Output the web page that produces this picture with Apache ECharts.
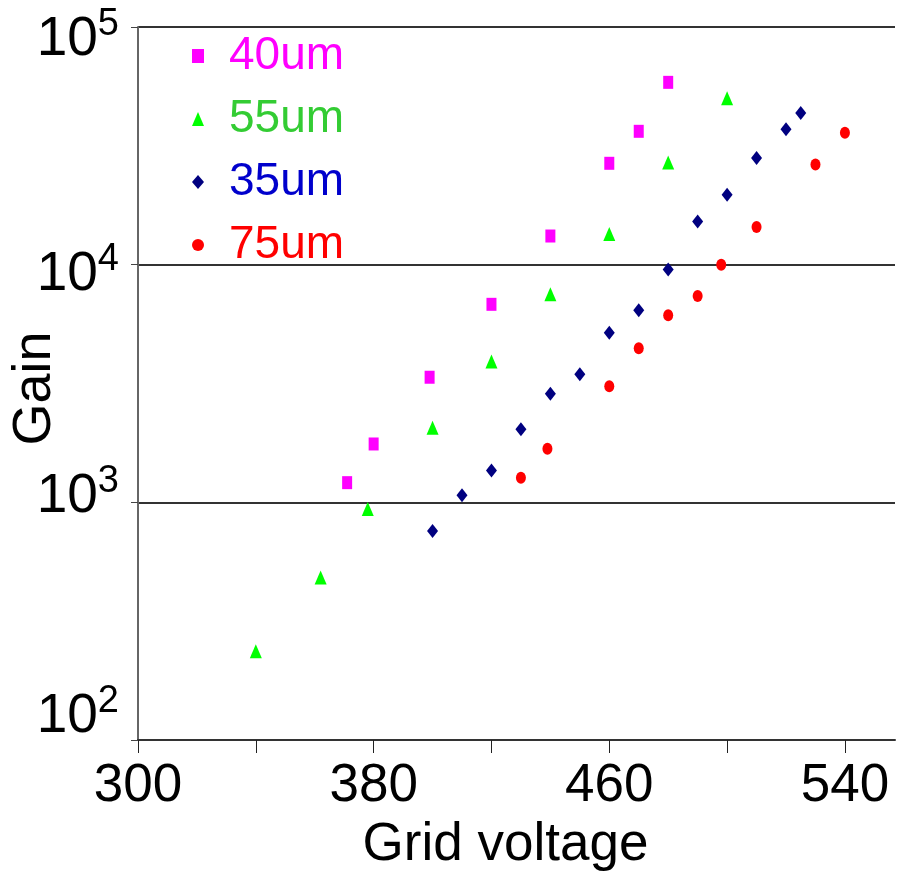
<!DOCTYPE html>
<html>
<head>
<meta charset="utf-8">
<script src="https://cdn.jsdelivr.net/npm/echarts@6/dist/echarts.min.js"></script>
<style>
  html, body { margin: 0; padding: 0; background: #fff; }
  #chart { width: 897px; height: 873px; }
</style>
</head>
<body>
<div id="chart"></div>
<script>
// gain vs grid voltage
const volt40 = [371, 380, 399, 420, 440, 460, 470, 480]
const gain40 = [1210, 1760, 3360, 6810, 13200, 26700, 36400, 58500]

const volt55 = [340, 362, 378, 400, 420, 440, 460, 480, 500]
const gain55 = [236, 483, 937, 2060, 3910, 7500, 13450, 26900, 50200]

const volt35 = [400, 410, 420, 430, 440, 450, 460, 470, 480, 490, 500, 510, 520, 525]
const gain35 = [757, 1070, 1360, 2030, 2860, 3460, 5170, 6430, 9550, 15200, 19700, 28100, 37100, 43500]

const volt75 = [430, 439, 460, 470, 480, 490, 498, 510, 530, 540]
const gain75 = [1270, 1680, 3080, 4450, 6120, 7380, 9990, 14400, 26400, 35900]

const xLabels = [300, 380, 460, 540]
const xTicks = [300, 340, 380, 420, 460, 500, 540]

const font = 'Liberation Sans, Arial, sans-serif'

const pairs = (xs, ys) => xs.map((x, i) => [x, ys[i]])

// the y labels in the original sit a bit off their gridlines, px (+ = down)
const yLabelShift = { 2: -23, 3: -6, 4: 10, 5: 13 }

const yRich = {
  b: { fontSize: 55, fontFamily: font, color: '#000' },
  s: { fontSize: 38, fontFamily: font, color: '#000', padding: [0, 0, 30, 0] }
}
Object.keys(yLabelShift).forEach(k => {
  yRich['g' + k] = { fontSize: 1, lineHeight: Math.abs(yLabelShift[k]) * 2 }
})

const yLabelFormatter = v => {
  const e = Math.round(Math.log10(v))
  const main = '{b|10}{s|' + e + '}'
  const shift = yLabelShift[e] || 0
  if (shift > 0) return '{g' + e + '|\u00a0}\n' + main
  if (shift < 0) return main + '\n{g' + e + '|\u00a0}'
  return main
}

const chart = echarts.init(document.getElementById('chart'))

const seriesList = [
  { name: '40um', data: pairs(volt40, gain40), symbol: 'rect', symbolSize: [10, 13], color: '#ff00ff', text: '#ff00ff' },
  { name: '55um', data: pairs(volt55, gain55), symbol: 'triangle', symbolSize: [12, 14], color: '#00ff00', text: '#33cc33' },
  { name: '35um', data: pairs(volt35, gain35), symbol: 'diamond', symbolSize: [11, 14], color: '#000080', text: '#0000cc' },
  { name: '75um', data: pairs(volt75, gain75), symbol: 'circle', symbolSize: [10, 12], color: '#ff0000', text: '#ff0000' }
]

chart.setOption({
  backgroundColor: '#ffffff',
  animation: false,
  textStyle: { fontFamily: font },
  grid: { left: 138, right: 2, top: 27, bottom: 133, containLabel: false, outerBoundsMode: 'none' },
  legend: {
    orient: 'vertical',
    left: 187,
    top: 26,
    itemWidth: 12,
    itemHeight: 14,
    itemGap: 13,
    data: seriesList.map(s => ({
      name: s.name,
      itemStyle: { opacity: 1 },
      textStyle: { color: s.text }
    })),
    textStyle: { fontSize: 46, lineHeight: 50, fontFamily: font, padding: [0, 0, 0, 20] }
  },
  xAxis: {
    type: 'value',
    min: 300,
    max: 557,
    interval: 20,
    name: 'Grid voltage',
    nameLocation: 'middle',
    nameGap: 79,
    nameMoveOverlap: false,
    nameTextStyle: { fontSize: 53, color: '#000', fontFamily: font, padding: [0, 22, 0, 0] },
    axisLine: { lineStyle: { color: '#333', width: 2 } },
    axisTick: { show: true, length: 13, customValues: xTicks, lineStyle: { color: '#222', width: 1 } },
    axisLabel: { customValues: xLabels, fontSize: 53, color: '#000', margin: 20, fontFamily: font },
    splitLine: { show: false }
  },
  yAxis: {
    type: 'log',
    logBase: 10,
    min: 100,
    max: 100000,
    name: 'Gain',
    nameLocation: 'middle',
    nameRotate: 90,
    nameGap: 76,
    nameMoveOverlap: false,
    nameTextStyle: { fontSize: 54, color: '#000', fontFamily: font, padding: [0, 10, 0, 0] },
    axisLine: { show: true, lineStyle: { color: '#666', width: 2 } },
    axisTick: { show: true, length: 7, lineStyle: { color: '#444', width: 1 } },
    axisLabel: {
      margin: 19,
      color: '#000',
      formatter: yLabelFormatter,
      rich: yRich
    },
    splitLine: { show: true, lineStyle: { color: '#333', width: 2 } }
  },
  series: seriesList.map(s => ({
    name: s.name,
    type: 'scatter',
    data: s.data,
    symbol: s.symbol,
    symbolSize: s.symbolSize,
    itemStyle: { color: s.color, opacity: 1 }
  }))
})
</script>
</body>
</html>
